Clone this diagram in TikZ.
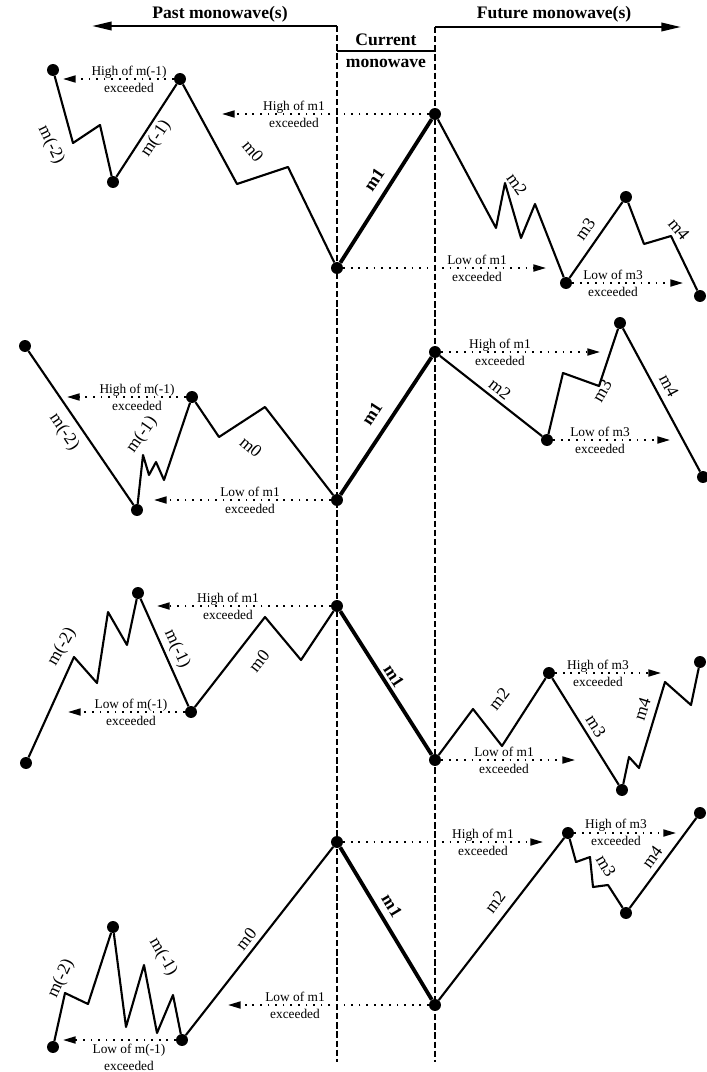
\documentclass[tikz,border=0pt]{standalone}
\usepackage{fontspec}
\setmainfont{Liberation Serif}
\usepackage{tikz}
\usetikzlibrary{arrows.meta}

\begin{document}
\begin{tikzpicture}[x=0.025cm, y=-0.025cm,
    dot/.style={circle, fill=black, inner sep=0pt, minimum size=8.5pt},
    wave/.style={line width=1.5pt, line join=round},
    cur/.style={line width=2.7pt, line join=round},
    hint/.style={line width=1.2pt, dash pattern=on 1.2pt off 4.2pt, -{Triangle[length=9pt, width=5pt]}},
    harr/.style={line width=1.6pt, -{Triangle[length=14pt, width=6pt]}},
    vline/.style={line width=1.3pt, dash pattern=on 4.5pt off 2pt},
    head/.style={font=\fontsize{12.5}{13}\selectfont\bfseries, inner sep=0pt},
    note/.style={font=\fontsize{9.5}{12}\selectfont, align=center, inner sep=0pt},
    lab/.style={font=\fontsize{12.5}{13}\selectfont, inner sep=0pt},
    blab/.style={font=\fontsize{12.5}{13}\selectfont\bfseries, inner sep=0pt}
  ]
  \useasboundingbox (0,0) rectangle (706,1072);
  \coordinate (pl) at (337,26);
  \coordinate (pe) at (92,26);
  \coordinate (fl) at (435,27);
  \coordinate (fe) at (681,27);
  \coordinate (cl) at (337,51);
  \coordinate (cr) at (435,51);
  \coordinate (pb) at (337,1062);
  \coordinate (fb) at (435,1062);
  \draw[harr] (pl) -- (pe);
  \draw[harr] (fl) -- (fe);
  \draw[line width=1.6pt] (cl) -- (cr);
  \draw[vline] (pl) -- (pb);
  \draw[vline] (fl) -- (fb);
  \node[head] (past) at (220,14) {Past monowave(s)};
  \node[head] (future) at (554,14) {Future monowave(s)};
  \node[head] (curA) at (386,40) {Current};
  \node[head] (curB) at (386,63) {monowave};

  \node[dot] (a1) at (53,70) {};
  \node[dot] (a2) at (113,182) {};
  \node[dot] (a3) at (180,79) {};
  \node[dot] (a4) at (337,268) {};
  \node[dot] (a5) at (435,114) {};
  \node[dot] (a6) at (566,283) {};
  \node[dot] (a7) at (626,197) {};
  \node[dot] (a8) at (700,296) {};
  \draw[wave] (a1) -- (73,143) -- (100,125) -- (a2) -- (a3) -- (237,184) -- (288,167) -- (a4);
  \draw[cur] (a4) -- (a5);
  \draw[wave] (a5) -- (496,228) -- (505,183) -- (521,238) -- (535,204) -- (a6) -- (a7) -- (644,244) -- (671,236) -- (a8);
  \coordinate (a3h) at (63,79);
  \coordinate (a5h) at (222,114);
  \coordinate (a4h) at (546,268);
  \coordinate (a6h) at (683,283);
  \draw[hint] (a3) -- (a3h);
  \draw[hint] (a5) -- (a5h);
  \draw[hint] (a4) -- (a4h);
  \draw[hint] (a6) -- (a6h);
  \node[note] (a3t) at (129,79) {High of m(-1)\\exceeded};
  \node[note] (a5t) at (294,114) {High of m1\\exceeded};
  \node[note] (a4t) at (477,268) {Low of m1\\exceeded};
  \node[note] (a6t) at (613,283) {Low of m3\\exceeded};
  \node[lab, rotate=-64] (a1l) at (51,145) {m(-2)};
  \node[lab, rotate=56] (a2l) at (156,139) {m(-1)};
  \node[lab, rotate=-50] (a3l) at (253,151) {m0};
  \node[blab, rotate=56] (a4l) at (374,180) {m1};
  \node[lab, rotate=-55] (a5l) at (517,184) {m2};
  \node[lab, rotate=55] (a6l) at (585,229) {m3};
  \node[lab, rotate=-50] (a7l) at (679,229) {m4};

  \node[dot] (b1) at (25,346) {};
  \node[dot] (b2) at (137,510) {};
  \node[dot] (b3) at (192,397) {};
  \node[dot] (b4) at (337,500) {};
  \node[dot] (b5) at (435,352) {};
  \node[dot] (b6) at (547,440) {};
  \node[dot] (b7) at (620,323) {};
  \node[dot] (b8) at (703,477) {};
  \draw[wave] (b1) -- (b2) -- (143,455) -- (149,475) -- (156,462) -- (164,480) -- (b3) -- (219,437) -- (265,407) -- (b4);
  \draw[cur] (b4) -- (b5);
  \draw[wave] (b5) -- (b6) -- (563,373) -- (599,386) -- (b7) -- (b8);
  \coordinate (b3h) at (67,397);
  \coordinate (b4h) at (154,500);
  \coordinate (b5h) at (600,352);
  \coordinate (b6h) at (670,440);
  \draw[hint] (b3) -- (b3h);
  \draw[hint] (b4) -- (b4h);
  \draw[hint] (b5) -- (b5h);
  \draw[hint] (b6) -- (b6h);
  \node[note] (b3t) at (137,397) {High of m(-1)\\exceeded};
  \node[note] (b4t) at (250,500) {Low of m1\\exceeded};
  \node[note] (b5t) at (500,352) {High of m1\\exceeded};
  \node[note] (b6t) at (600,440) {Low of m3\\exceeded};
  \node[lab, rotate=-56] (b1l) at (64,432) {m(-2)};
  \node[lab, rotate=55] (b2l) at (142,435) {m(-1)};
  \node[lab, rotate=-40] (b3l) at (251,447) {m0};
  \node[blab, rotate=57] (b4l) at (372,414) {m1};
  \node[lab, rotate=-38] (b5l) at (500,389) {m2};
  \node[lab, rotate=60] (b6l) at (602,391) {m3};
  \node[lab, rotate=-62] (b7l) at (669,386) {m4};

  \node[dot] (c1) at (26,763) {};
  \node[dot] (c2) at (138,593) {};
  \node[dot] (c3) at (191,712) {};
  \node[dot] (c4) at (337,606) {};
  \node[dot] (c5) at (435,760) {};
  \node[dot] (c6) at (549,673) {};
  \node[dot] (c7) at (622,790) {};
  \node[dot] (c8) at (700,662) {};
  \draw[wave] (c1) -- (74,657) -- (97,683) -- (108,612) -- (127,645) -- (c2) -- (c3) -- (265,617) -- (301,660) -- (c4);
  \draw[cur] (c4) -- (c5);
  \draw[wave] (c5) -- (473,709) -- (502,746) -- (c6) -- (c7) -- (629,757) -- (639,768) -- (665,682) -- (691,705) -- (c8);
  \coordinate (c4h) at (157,606);
  \coordinate (c3h) at (68,712);
  \coordinate (c5h) at (575,760);
  \coordinate (c6h) at (661,673);
  \draw[hint] (c4) -- (c4h);
  \draw[hint] (c3) -- (c3h);
  \draw[hint] (c5) -- (c5h);
  \draw[hint] (c6) -- (c6h);
  \node[note] (c4t) at (228,606) {High of m1\\exceeded};
  \node[note] (c3t) at (131,712) {Low of m(-1)\\exceeded};
  \node[note] (c5t) at (504,760) {Low of m1\\exceeded};
  \node[note] (c6t) at (598,673) {High of m3\\exceeded};
  \node[lab, rotate=60] (c1l) at (62,647) {m(-2)};
  \node[lab, rotate=-65] (c2l) at (177,649) {m(-1)};
  \node[lab, rotate=52] (c3l) at (259,661) {m0};
  \node[blab, rotate=-57] (c4l) at (394,676) {m1};
  \node[lab, rotate=52] (c5l) at (499,699) {m2};
  \node[lab, rotate=-58] (c6l) at (596,726) {m3};
  \node[lab, rotate=72] (c7l) at (642,709) {m4};

  \node[dot] (d1) at (53,1047) {};
  \node[dot] (d2) at (113,927) {};
  \node[dot] (d3) at (182,1040) {};
  \node[dot] (d4) at (337,842) {};
  \node[dot] (d5) at (435,1005) {};
  \node[dot] (d6) at (568,833) {};
  \node[dot] (d7) at (626,913) {};
  \node[dot] (d8) at (700,813) {};
  \draw[wave] (d1) -- (65,993) -- (88,1004) -- (d2) -- (126,1027) -- (144,965) -- (157,1033) -- (173,995) -- (d3) -- (d4);
  \draw[cur] (d4) -- (d5);
  \draw[wave] (d5) -- (d6) -- (576,862) -- (590,857) -- (593,887) -- (608,885) -- (d7) -- (d8);
  \coordinate (d3h) at (63,1040);
  \coordinate (d5h) at (228,1005);
  \coordinate (d4h) at (543,842);
  \coordinate (d6h) at (676,833);
  \draw[hint] (d3) -- (d3h);
  \draw[hint] (d5) -- (d5h);
  \draw[hint] (d4) -- (d4h);
  \draw[hint] (d6) -- (d6h);
  \node[note] (d3t) at (129,1057) {Low of m(-1)\\exceeded};
  \node[note] (d5t) at (295,1005) {Low of m1\\exceeded};
  \node[note] (d4t) at (483,842) {High of m1\\exceeded};
  \node[note] (d6t) at (616,832) {High of m3\\exceeded};
  \node[lab, rotate=65] (d1l) at (61,979) {m(-2)};
  \node[lab, rotate=-60] (d2l) at (163,957) {m(-1)};
  \node[lab, rotate=52] (d3l) at (246,939) {m0};
  \node[blab, rotate=-59] (d4l) at (392,906) {m1};
  \node[lab, rotate=53] (d5l) at (495,902) {m2};
  \node[lab, rotate=-60] (d6l) at (606,866) {m3};
  \node[lab, rotate=54] (d7l) at (652,857) {m4};
\end{tikzpicture}
\end{document}
